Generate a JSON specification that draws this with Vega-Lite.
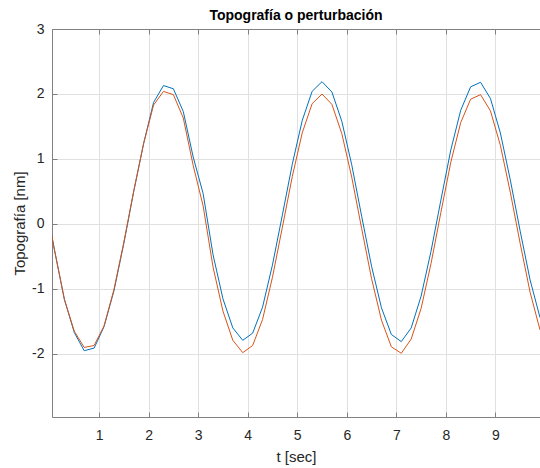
{
  "$schema": "https://vega.github.io/schema/vega-lite/v6.json",
  "width": 488,
  "height": 388,
  "autosize": {"type": "none"},
  "padding": {"left": 52, "top": 29, "right": 0, "bottom": 51},
  "background": "#ffffff",
  "title": {"text": "Topografía o perturbación", "font": "Liberation Sans", "fontSize": 14, "fontWeight": "bold", "color": "#000000", "offset": -1, "anchor": "middle"},
  "datasets": {
    "blue": [
      {"t": -0.1, "y": 0.40}, {"t": 0.1, "y": -0.40}, {"t": 0.3, "y": -1.16}, {"t": 0.5, "y": -1.67}, {"t": 0.7, "y": -1.95}, {"t": 0.9, "y": -1.91}, {"t": 1.1, "y": -1.58}, {"t": 1.3, "y": -1.03}, {"t": 1.5, "y": -0.30}, {"t": 1.7, "y": 0.50}, {"t": 1.9, "y": 1.24}, {"t": 2.1, "y": 1.87}, {"t": 2.3, "y": 2.13}, {"t": 2.5, "y": 2.08}, {"t": 2.7, "y": 1.73}, {"t": 2.9, "y": 1.03}, {"t": 3.1, "y": 0.47}, {"t": 3.3, "y": -0.47}, {"t": 3.5, "y": -1.15}, {"t": 3.7, "y": -1.60}, {"t": 3.9, "y": -1.79}, {"t": 4.1, "y": -1.68}, {"t": 4.3, "y": -1.28}, {"t": 4.5, "y": -0.63}, {"t": 4.7, "y": 0.14}, {"t": 4.9, "y": 0.92}, {"t": 5.1, "y": 1.59}, {"t": 5.3, "y": 2.04}, {"t": 5.5, "y": 2.19}, {"t": 5.7, "y": 2.03}, {"t": 5.9, "y": 1.58}, {"t": 6.1, "y": 0.91}, {"t": 6.3, "y": 0.12}, {"t": 6.5, "y": -0.65}, {"t": 6.7, "y": -1.29}, {"t": 6.9, "y": -1.70}, {"t": 7.1, "y": -1.81}, {"t": 7.3, "y": -1.60}, {"t": 7.5, "y": -1.11}, {"t": 7.7, "y": -0.42}, {"t": 7.9, "y": 0.37}, {"t": 8.1, "y": 1.14}, {"t": 8.3, "y": 1.75}, {"t": 8.5, "y": 2.11}, {"t": 8.7, "y": 2.18}, {"t": 8.9, "y": 1.93}, {"t": 9.1, "y": 1.40}, {"t": 9.3, "y": 0.68}, {"t": 9.5, "y": -0.11}, {"t": 9.7, "y": -0.86}, {"t": 9.9, "y": -1.44}
    ],
    "orange": [
      {"t": -0.1, "y": 0.40}, {"t": 0.1, "y": -0.40}, {"t": 0.3, "y": -1.16}, {"t": 0.5, "y": -1.65}, {"t": 0.7, "y": -1.90}, {"t": 0.9, "y": -1.87}, {"t": 1.1, "y": -1.57}, {"t": 1.3, "y": -1.01}, {"t": 1.5, "y": -0.28}, {"t": 1.7, "y": 0.51}, {"t": 1.9, "y": 1.24}, {"t": 2.1, "y": 1.83}, {"t": 2.3, "y": 2.04}, {"t": 2.5, "y": 1.99}, {"t": 2.7, "y": 1.63}, {"t": 2.9, "y": 0.90}, {"t": 3.1, "y": 0.28}, {"t": 3.3, "y": -0.66}, {"t": 3.5, "y": -1.34}, {"t": 3.7, "y": -1.79}, {"t": 3.9, "y": -1.98}, {"t": 4.1, "y": -1.87}, {"t": 4.3, "y": -1.47}, {"t": 4.5, "y": -0.82}, {"t": 4.7, "y": -0.05}, {"t": 4.9, "y": 0.73}, {"t": 5.1, "y": 1.40}, {"t": 5.3, "y": 1.85}, {"t": 5.5, "y": 2.00}, {"t": 5.7, "y": 1.84}, {"t": 5.9, "y": 1.39}, {"t": 6.1, "y": 0.72}, {"t": 6.3, "y": -0.07}, {"t": 6.5, "y": -0.84}, {"t": 6.7, "y": -1.48}, {"t": 6.9, "y": -1.89}, {"t": 7.1, "y": -1.99}, {"t": 7.3, "y": -1.77}, {"t": 7.5, "y": -1.30}, {"t": 7.7, "y": -0.61}, {"t": 7.9, "y": 0.18}, {"t": 8.1, "y": 0.95}, {"t": 8.3, "y": 1.56}, {"t": 8.5, "y": 1.92}, {"t": 8.7, "y": 1.99}, {"t": 8.9, "y": 1.74}, {"t": 9.1, "y": 1.21}, {"t": 9.3, "y": 0.49}, {"t": 9.5, "y": -0.30}, {"t": 9.7, "y": -1.05}, {"t": 9.9, "y": -1.63}
    ]
  },
  "config": {
    "view": {"stroke": null},
    "axis": {
      "labelFont": "Liberation Sans",
      "labelFontSize": 14,
      "labelColor": "#262626",
      "titleFont": "Liberation Sans",
      "titleFontSize": 15,
      "titleFontWeight": "normal",
      "titleColor": "#262626",
      "domainColor": "#808080",
      "domainWidth": 1,
      "tickColor": "#808080",
      "tickSize": -5,
      "gridColor": "#e0e0e0",
      "gridWidth": 1
    }
  },
  "layer": [
    {
      "data": {"name": "blue"},
      "mark": {"type": "line", "color": "#0072BD", "strokeWidth": 1, "clip": true},
      "encoding": {
        "x": {"field": "t", "type": "quantitative", "scale": {"domain": [0.05, 9.9], "nice": false, "zero": false},
              "axis": {"title": "t [sec]", "values": [1,2,3,4,5,6,7,8,9], "grid": true, "labelPadding": 16, "titlePadding": 7}},
        "y": {"field": "y", "type": "quantitative", "scale": {"domain": [-2.97, 3], "nice": false, "zero": false},
              "axis": {"title": "Topografía [nm]", "values": [-2,-1,0,1,2,3], "labelExpr": "toString(datum.value)", "grid": true, "labelPadding": 13, "titlePadding": 4}}
      }
    },
    {
      "data": {"name": "orange"},
      "mark": {"type": "line", "color": "#D95319", "strokeWidth": 1, "clip": true},
      "encoding": {
        "x": {"field": "t", "type": "quantitative",
              "axis": {"orient": "top", "title": null, "labels": false, "grid": false, "values": [1,2,3,4,5,6,7,8,9]}},
        "y": {"field": "y", "type": "quantitative"}
      }
    }
  ],
  "resolve": {"axis": {"x": "independent"}}
}
